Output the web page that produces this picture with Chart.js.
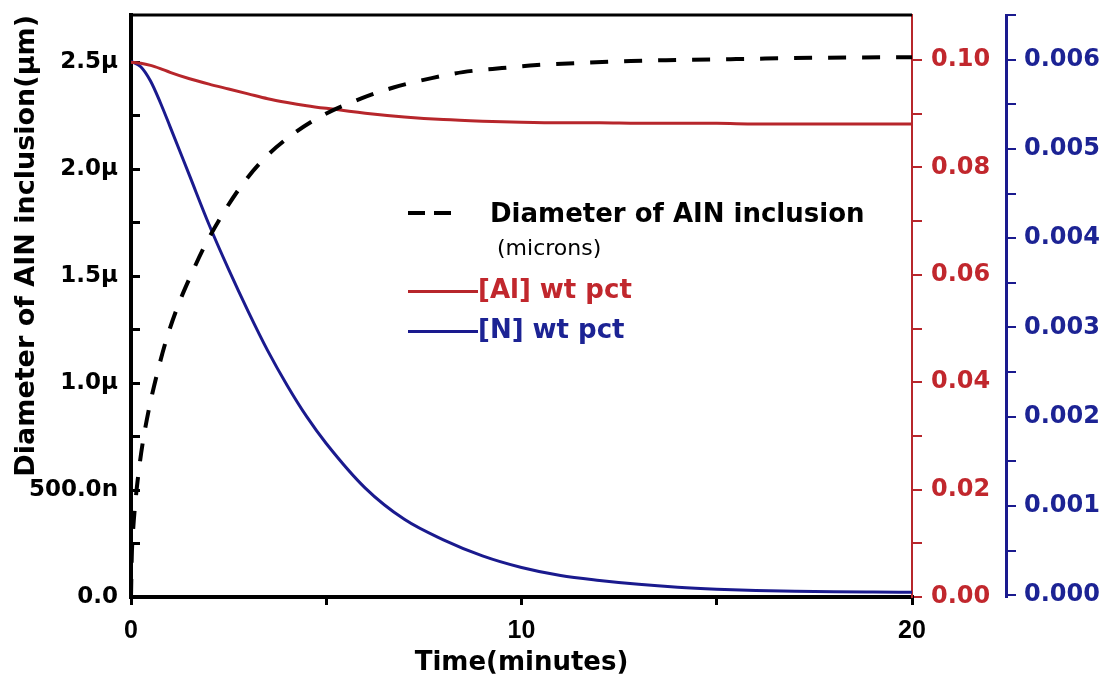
<!DOCTYPE html>
<html>
<head>
<meta charset="utf-8">
<script src="https://cdn.jsdelivr.net/npm/chart.js@4.4.1/dist/chart.umd.min.js"></script>
<style>
  body { margin: 0; background: #fff; }
  #wrap { position: relative; width: 1104px; height: 679px; }
  .lg { position: absolute; font-family: 'DejaVu Sans', sans-serif; font-weight: bold; font-size: 26px; white-space: nowrap; line-height: 1; }
  .sw { position: absolute; height: 3px; }
</style>
</head>
<body>
<div id="wrap">
  <canvas id="chart"></canvas>
  <!-- leyenda dibujada a mano dentro del área -->
  <div class="sw" style="left:408px;top:211px;width:17px;height:4px;background:#000"></div>
  <div class="sw" style="left:434px;top:211px;width:17px;height:4px;background:#000"></div>
  <div class="lg" style="left:490px;top:200px;color:#000">Diameter of AIN inclusion</div>
  <div class="lg" style="left:497px;top:237px;color:#000;font-weight:normal;font-size:22px">(microns)</div>
  <div class="sw" style="left:408px;top:290px;width:70px;background:#b7262b"></div>
  <div class="lg" style="left:478px;top:276px;color:#c1272d">[Al] wt pct</div>
  <div class="sw" style="left:408px;top:330px;width:70px;background:#1a1a8e"></div>
  <div class="lg" style="left:478px;top:316px;color:#1c2394">[N] wt pct</div>
</div>
<script>
// datos
const timeDiam = [0, 0.02, 0.05, 0.1, 0.2, 0.3, 0.45, 0.65, 0.9, 1.2, 1.55, 1.9, 2.4, 2.9, 3.5, 4.2, 4.9, 5.9, 6.7, 7.7, 8.5, 9.5, 10.4, 11.4, 12.8, 13.7, 15.5, 17.5, 20];
const diameterUm = [0, 0.19, 0.30, 0.42, 0.59, 0.72, 0.87, 1.03, 1.20, 1.36, 1.51, 1.645, 1.805, 1.94, 2.065, 2.17, 2.25, 2.33, 2.38, 2.425, 2.453, 2.472, 2.486, 2.495, 2.505, 2.509, 2.514, 2.52, 2.523];

const timeConc = [0, 0.25, 0.5, 0.75, 1, 1.5, 2, 2.5, 3, 3.5, 4, 4.5, 5, 6, 7, 8, 9, 10, 11, 12, 13, 14, 15, 16, 17, 18, 19, 20];
const alWt = [0.0996, 0.0994, 0.0990, 0.0984, 0.0977, 0.0965, 0.0955, 0.0946, 0.0937, 0.0928, 0.0921, 0.0915, 0.0910, 0.0901, 0.0894, 0.0889, 0.0886, 0.0884, 0.0883, 0.0883, 0.0882, 0.0882, 0.0882, 0.0881, 0.0881, 0.0881, 0.0881, 0.0881];
const nWt = [0.00598, 0.00592, 0.00576, 0.00552, 0.00525, 0.00470, 0.00415, 0.00365, 0.00318, 0.00274, 0.00235, 0.00200, 0.00170, 0.00120, 0.00085, 0.00062, 0.00044, 0.00031, 0.00022, 0.000165, 0.000122, 0.00009, 0.000068, 0.000053, 0.000044, 0.000038, 0.000035, 0.000033];

const xTicks = [0, 10, 20];

const RED = '#b7262b';
const RED_TEXT = '#c1272d';
const BLUE = '#1a1a8e';
const BLUE_TEXT = '#1c2394';

const pairs = (xs, ys) => xs.map((x, i) => ({ x, y: ys[i] }));
const near = (v, step) => Math.abs(v / step - Math.round(v / step)) < 1e-6;

// sin relleno automático arriba/abajo en los ejes verticales
const noPadV = s => { s.paddingTop = 0; s.paddingBottom = 0; };

// línea superior del marco
const frameTop = {
  id: 'frameTop',
  afterDraw(chart) {
    const { ctx, chartArea: a } = chart;
    ctx.save();
    ctx.strokeStyle = '#000';
    ctx.lineWidth = 3;
    ctx.beginPath();
    ctx.moveTo(a.left - 2, a.top);
    ctx.lineTo(a.right, a.top);
    ctx.stroke();
    ctx.restore();
  }
};

Chart.defaults.font.family = "'DejaVu Sans', sans-serif";
Chart.defaults.font.weight = 'bold';

new Chart(document.getElementById('chart'), {
  type: 'line',
  data: {
    datasets: [
      {
        label: 'Diameter of AIN inclusion',
        data: pairs(timeDiam, diameterUm),
        yAxisID: 'yD',
        borderColor: '#000',
        borderWidth: 4,
        borderDash: [18, 16],
        pointRadius: 0,
        cubicInterpolationMode: 'monotone'
      },
      {
        label: '[Al] wt pct',
        data: pairs(timeConc, alWt),
        yAxisID: 'yAl',
        borderColor: RED,
        borderWidth: 3,
        pointRadius: 0,
        cubicInterpolationMode: 'monotone'
      },
      {
        label: '[N] wt pct',
        data: pairs(timeConc, nWt),
        yAxisID: 'yN',
        borderColor: BLUE,
        borderWidth: 3,
        pointRadius: 0,
        cubicInterpolationMode: 'monotone'
      }
    ]
  },
  options: {
    responsive: true,
    maintainAspectRatio: false,
    animation: false,
    layout: { padding: { top: 15, left: 0, right: 0, bottom: 0 } },
    plugins: { legend: { display: false }, tooltip: { enabled: false } },
    scales: {
      x: {
        type: 'linear',
        min: 0,
        max: 20,
        afterFit: s => { s.height = 82; s.paddingLeft = 0; s.paddingRight = 0; },
        border: { color: '#000', width: 4 },
        grid: { drawOnChartArea: false, color: '#000', tickLength: 8, lineWidth: 3 },
        ticks: {
          stepSize: 5,
          autoSkip: false,
          maxRotation: 0,
          padding: 11,
          color: '#000',
          font: { size: 25, family: "'Liberation Sans', Arial, sans-serif" },
          callback: v => (xTicks.includes(v) ? String(v) : '')
        },
        title: {
          display: true,
          text: 'Time(minutes)',
          color: '#000',
          font: { size: 26 },
          padding: { top: 0, bottom: 0 }
        }
      },
      yD: {
        position: 'left',
        min: 0,
        max: 2.72,
        afterFit: s => { s.width = 131; noPadV(s); },
        border: { color: '#000', width: 4 },
        grid: { drawOnChartArea: false, color: '#000', tickLength: -9, lineWidth: 3 },
        ticks: {
          stepSize: 0.25,
          includeBounds: false,
          autoSkip: false,
          padding: 22,
          color: '#000',
          font: { size: 23 },
          callback: v => {
            if (!near(v, 0.5)) return '';
            if (v === 0) return '0.0';
            if (v >= 1) return v.toFixed(1) + 'μ';
            return (v * 1000).toFixed(1) + 'n';
          }
        },
        title: {
          display: true,
          text: 'Diameter of AIN inclusion(μm)',
          align: 'end',
          color: '#000',
          font: { size: 27 },
          padding: { top: 11, bottom: 0 }
        }
      },
      yAl: {
        position: 'right',
        min: 0,
        max: 0.10838,
        afterFit: s => { s.width = 94; noPadV(s); },
        border: { color: RED, width: 2 },
        grid: { drawOnChartArea: false, color: RED, tickLength: 10, lineWidth: 2 },
        ticks: {
          stepSize: 0.01,
          includeBounds: false,
          autoSkip: false,
          padding: 9,
          color: RED_TEXT,
          font: { size: 24 },
          callback: v => (near(v, 0.02) ? v.toFixed(2) : '')
        }
      },
      yN: {
        position: 'right',
        min: -0.00002,
        max: 0.0065,
        afterFit: s => { s.width = 98; noPadV(s); },
        border: { color: BLUE, width: 3 },
        grid: { drawOnChartArea: false, color: BLUE, tickLength: 10, lineWidth: 2 },
        ticks: {
          stepSize: 0.0005,
          includeBounds: false,
          autoSkip: false,
          padding: 8,
          color: BLUE_TEXT,
          font: { size: 24 },
          callback: v => (near(v, 0.001) ? v.toFixed(3) : '')
        }
      }
    }
  },
  plugins: [frameTop]
});
</script>
</body>
</html>
